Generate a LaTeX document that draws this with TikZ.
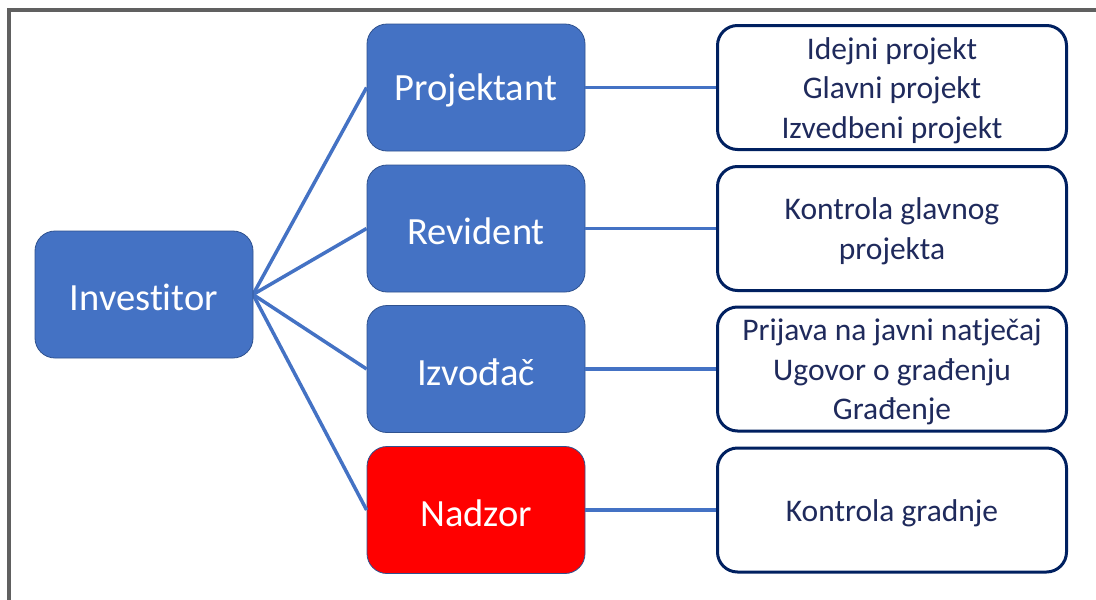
\documentclass[tikz,border=0pt]{standalone}
\usepackage{fontspec}
\setmainfont[Ligatures=NoCommon]{Carlito}
\definecolor{boxblue}{HTML}{4472C4}
\definecolor{boxedge}{HTML}{2F528F}
\definecolor{navy}{HTML}{002060}
\definecolor{txtnavy}{HTML}{1F2A5C}
\definecolor{framegray}{HTML}{606060}
\tikzset{
  bluebox/.style={draw=boxedge, line width=0.8pt, fill=boxblue, rounded corners=20pt,
    minimum width=218pt, minimum height=127pt, inner sep=0pt},
  redbox/.style={bluebox, fill=red},
  bluetext/.style={inner sep=0pt, text=white, font=\fontsize{38.5}{46}\selectfont},
  infobox/.style={draw=navy, line width=3pt, fill=white, rounded corners=20pt,
    minimum width=349pt, minimum height=124pt, inner sep=0pt},
  infotext/.style={inner sep=0pt, text=txtnavy, align=center,
    font=\fontsize{31.5}{39.5}\selectfont},
  link/.style={draw=boxblue, line width=3.5pt}
}
\begin{document}
\begin{tikzpicture}[x=1pt,y=-1pt]
\useasboundingbox (0,0) rectangle (1096,600);
\fill[white] (0,0) rectangle (1096,600);
\draw[framegray, line width=4pt] (9,600) -- (9,9.5) -- (1096,9.5);

\coordinate (hub) at (253,294.5);
\node[bluebox] (proj) at (476,87.5) {};
\node[bluebox] (rev) at (476,228.5) {};
\node[bluebox] (izv) at (476,369) {};
\node[redbox] (nad) at (476,510) {};
\node[infobox] (p1) at (892,87.5) {};
\node[infobox] (r1) at (892,228.5) {};
\node[infobox] (i1) at (892,369) {};
\node[infobox] (n1) at (892,510) {};

\foreach \t in {proj,rev,izv,nad}{
  \draw[link] (hub) -- (\t.west);
}
\draw[link] (proj.east) -- (p1.west);
\draw[link] (rev.east) -- (r1.west);
\draw[link] (izv.east) -- (i1.west);
\draw[link] (nad.east) -- (n1.west);

\node[bluebox] (inv) at (144,294.5) {};

\node[bluetext] (invt) at ([yshift=-3pt]inv.center) {Investitor};
\node[bluetext] (projt) at ([yshift=-3pt]proj.center) {Projektant};
\node[bluetext] (revt) at ([yshift=-3pt]rev.center) {Revident};
\node[bluetext] (izvt) at ([yshift=-3pt]izv.center) {Izvođač};
\node[bluetext] (nadt) at ([yshift=-3pt]nad.center) {Nadzor};

\node[infotext] (p1t) at ([yshift=-3pt]p1.center) {Idejni projekt\\Glavni projekt\\Izvedbeni projekt};
\node[infotext] (r1t) at ([yshift=-3pt]r1.center) {Kontrola glavnog\\projekta};
\node[infotext] (i1t) at ([yshift=-3pt]i1.center) {Prijava na javni natječaj\\Ugovor o građenju\\Građenje};
\node[infotext] (n1t) at ([yshift=-3pt]n1.center) {Kontrola gradnje};
\end{tikzpicture}
\end{document}
